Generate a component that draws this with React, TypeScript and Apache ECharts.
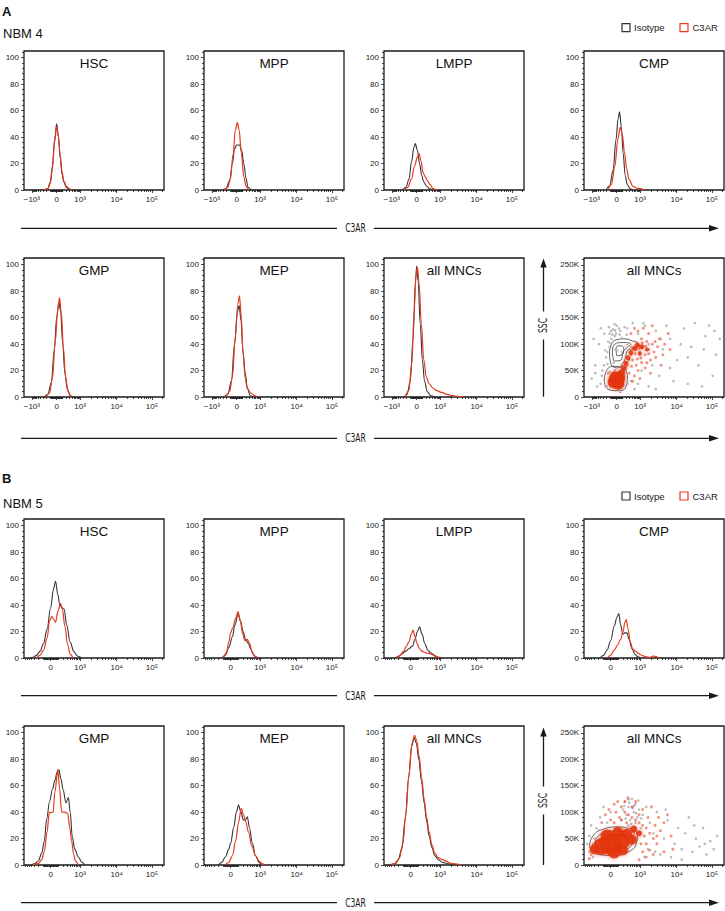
import React, { useEffect, useRef } from "react";
import * as echarts from "echarts";

// ---------------- labels ----------------
const sectionLetters = ["A", "B"];
const donorNames = ["NBM 4", "NBM 5"];
const populationsRow1 = ["HSC", "MPP", "LMPP", "CMP"];
const populationsRow2 = ["GMP", "MEP", "all MNCs"];
const scatterTitle = "all MNCs";
const legendNames = ["Isotype", "C3AR"];
const xAxisTitle = "C3AR";
const scatterYTitle = "SSC";

// ---------------- tick labels (display units of the biexponential scale) ----------------
const xTickPosA = [-0.7, 0, 0.66, 1.69, 2.68];
const xTickLabA = ["−10³", "0", "10³", "10⁴", "10⁵"];
const xRangeA = [-0.92, 3.02];
const xTickPosB = [0, 0.83, 1.86, 2.85];
const xTickLabB = ["0", "10³", "10⁴", "10⁵"];
const xRangeB = [-0.75, 3.19];
const histYTicks = [0, 20, 40, 60, 80, 100];
const histYMax = 105;
const sscTicks = [0, 50, 100, 150, 200, 250];
const sscTickLab = ["0", "50K", "100K", "150K", "200K", "250K"];
const sscYMax = 263;

// ---------------- NBM 4 histograms [x, % of max] ----------------
const nbm4HscIso = [[-0.35,0],[-0.25,1],[-0.18,6],[-0.12,18],[-0.06,38],[0,50],[0.05,40],[0.1,24],[0.15,12],[0.2,6],[0.27,2],[0.35,0]];
const nbm4HscC3 = [[-0.35,0],[-0.25,1],[-0.18,5],[-0.12,16],[-0.06,36],[0,48],[0.05,40],[0.1,26],[0.15,14],[0.2,7],[0.27,3],[0.35,1],[0.42,0]];
const nbm4MppIso = [[-0.4,0],[-0.3,1],[-0.2,7],[-0.12,20],[-0.06,31],[0,34],[0.08,34],[0.14,30],[0.2,20],[0.26,9],[0.32,2],[0.4,0]];
const nbm4MppC3 = [[-0.35,0],[-0.25,2],[-0.18,8],[-0.1,27],[-0.04,45],[0.02,51],[0.07,45],[0.13,28],[0.2,10],[0.26,3],[0.32,0]];
const nbm4LmppIso = [[-0.4,0],[-0.3,2],[-0.22,8],[-0.14,22],[-0.08,32],[-0.04,35],[0.02,30],[0.08,20],[0.14,11],[0.2,6],[0.28,3],[0.36,1],[0.45,0]];
const nbm4LmppC3 = [[-0.35,0],[-0.25,2],[-0.15,8],[-0.06,18],[0.02,25],[0.07,27.5],[0.12,22],[0.18,13],[0.24,10],[0.3,7],[0.38,4],[0.46,1],[0.54,0]];
const nbm4CmpIso = [[-0.3,0],[-0.2,3],[-0.1,15],[-0.02,38],[0.04,54],[0.08,59],[0.13,48],[0.18,28],[0.24,11],[0.3,4],[0.38,1],[0.45,0]];
const nbm4CmpC3 = [[-0.25,0],[-0.15,4],[-0.05,18],[0.03,38],[0.1,47.5],[0.16,42],[0.22,28],[0.28,16],[0.35,8],[0.45,3],[0.55,1.5],[0.65,1],[0.78,0]];
const nbm4GmpIso = [[-0.35,0],[-0.25,2],[-0.15,11],[-0.07,35],[0,60],[0.06,71.5],[0.11,65],[0.17,40],[0.23,18],[0.3,6],[0.38,1],[0.45,0]];
const nbm4GmpC3 = [[-0.3,0],[-0.2,3],[-0.12,14],[-0.04,42],[0.03,66],[0.08,75],[0.13,64],[0.19,37],[0.25,15],[0.32,4],[0.4,0]];
const nbm4MepIso = [[-0.35,0],[-0.25,2],[-0.15,12],[-0.06,40],[0.02,64],[0.07,69],[0.12,58],[0.18,34],[0.24,18],[0.3,7],[0.38,1],[0.45,0]];
const nbm4MepC3 = [[-0.3,0],[-0.2,4],[-0.12,15],[-0.04,45],[0.03,70],[0.08,76.5],[0.13,60],[0.18,32],[0.24,14],[0.3,6],[0.4,3],[0.5,1],[0.58,0]];
const nbm4MncIso = [[-0.35,0],[-0.27,2],[-0.18,12],[-0.1,45],[-0.04,85],[0,99],[0.04,88],[0.1,55],[0.16,28],[0.22,12],[0.3,4],[0.4,1],[0.5,0]];
const nbm4MncC3 = [[-0.32,0],[-0.22,5],[-0.14,25],[-0.07,65],[-0.02,92],[0.02,98],[0.07,85],[0.13,55],[0.2,28],[0.27,15],[0.35,10],[0.45,7],[0.55,5],[0.7,3.5],[0.85,2],[1.0,1],[1.15,0.5],[1.3,0]];

// ---------------- NBM 5 histograms ----------------
const nbm5HscIso = [[-0.6,0],[-0.5,0.5],[-0.4,2],[-0.3,5],[-0.2,11],[-0.1,22],[0,38],[0.08,52],[0.14,58],[0.2,48],[0.26,40],[0.32,38],[0.38,37],[0.45,25],[0.55,12],[0.65,5],[0.75,1.5],[0.87,0]];
const nbm5HscC3 = [[-0.4,0],[-0.3,2],[-0.2,6],[-0.1,15],[-0.03,28],[0.03,31.5],[0.09,29],[0.14,27],[0.2,35],[0.28,41],[0.33,37],[0.4,24],[0.48,10],[0.55,3],[0.63,0]];
const nbm5MppIso = [[-0.25,0],[-0.15,2],[-0.05,8],[0.05,16],[0.12,25],[0.21,33],[0.28,28],[0.35,20],[0.42,14],[0.5,11],[0.56,7],[0.63,3],[0.7,1],[0.78,0]];
const nbm5MppC3 = [[-0.2,0],[-0.12,4],[-0.05,12],[0,19],[0.06,23],[0.14,30],[0.21,35],[0.27,28],[0.34,18],[0.4,13],[0.47,14],[0.53,11],[0.6,5],[0.67,1.5],[0.75,0]];
const nbm5LmppIso = [[-0.45,0],[-0.35,1],[-0.25,3],[-0.15,5],[-0.05,7],[0.05,9],[0.12,14],[0.19,20],[0.25,23.5],[0.32,18],[0.4,11],[0.48,6],[0.56,4],[0.62,3],[0.7,1.5],[0.8,0.5],[0.88,0]];
const nbm5LmppC3 = [[-0.4,0],[-0.3,2],[-0.2,5],[-0.12,9],[-0.05,12],[0.02,18],[0.07,21],[0.12,16],[0.18,11],[0.25,7],[0.33,5],[0.42,4],[0.5,3.5],[0.58,3],[0.65,2],[0.72,1],[0.8,0]];
const nbm5CmpIso = [[-0.3,0],[-0.2,2],[-0.1,6],[0,13],[0.1,24],[0.18,31],[0.23,33.5],[0.28,25],[0.34,18],[0.4,19],[0.46,19],[0.52,14],[0.6,7],[0.68,3],[0.76,1],[0.85,0]];
const nbm5CmpC3 = [[-0.1,0],[0,2],[0.1,6],[0.2,10],[0.28,14],[0.35,20],[0.4,27],[0.44,29],[0.49,22],[0.55,12],[0.62,7],[0.7,5],[0.78,3.5],[0.88,2],[0.98,1],[1.1,0.5],[1.2,1.5],[1.28,1],[1.35,0]];
const nbm5GmpIso = [[-0.55,0],[-0.45,1],[-0.35,3],[-0.25,9],[-0.18,18],[-0.11,35],[-0.03,48],[0.05,57],[0.12,64],[0.18,70],[0.23,72],[0.29,65],[0.35,57],[0.43,47],[0.5,51],[0.55,40],[0.61,21],[0.68,12],[0.78,6],[0.88,2],[0.97,0]];
const nbm5GmpC3 = [[-0.5,0],[-0.35,1],[-0.25,4],[-0.18,10],[-0.1,25],[-0.04,39.5],[0.07,40],[0.12,55],[0.2,72],[0.25,58],[0.31,40],[0.4,40],[0.48,39],[0.54,28],[0.59,18],[0.65,8],[0.7,3],[0.78,0]];
const nbm5MepIso = [[-0.35,0],[-0.25,2],[-0.15,6],[-0.05,12],[0,16.5],[0.09,29],[0.16,40],[0.22,45.3],[0.29,40],[0.36,34],[0.42,34],[0.47,36.5],[0.53,28],[0.61,16.5],[0.7,7],[0.8,2],[0.86,0]];
const nbm5MepC3 = [[-0.15,0],[-0.05,2],[0.05,7],[0.14,18],[0.22,32],[0.3,42.8],[0.36,38],[0.42,33],[0.5,25],[0.6,14],[0.7,7],[0.8,3],[0.88,1],[0.95,0]];
const nbm5MncIso = [[-0.6,0],[-0.45,1],[-0.35,4],[-0.25,12],[-0.15,35],[-0.06,65],[0.03,90],[0.1,96],[0.16,92],[0.23,80],[0.3,64],[0.38,47],[0.45,33],[0.52,22],[0.6,13],[0.68,7],[0.78,4],[0.9,2],[1.05,1],[1.2,0.5],[1.35,0]];
const nbm5MncC3 = [[-0.55,0],[-0.42,1],[-0.32,5],[-0.22,16],[-0.13,40],[-0.05,68],[0.04,92],[0.11,98],[0.17,94],[0.24,82],[0.31,66],[0.38,50],[0.45,36],[0.52,25],[0.6,15],[0.68,9],[0.78,5.5],[0.9,4],[1.0,3],[1.1,1.5],[1.25,0.8],[1.4,0]];

// ---------------- NBM 4 C3AR vs SSC (x, SSC in K) ----------------
const nbm4DotsIso = [[-0.2,120],[-0.1,128],[0,135],[0.1,125],[-0.15,110],[-0.05,115],[0.05,108],[0.15,112],[-0.2,95],[-0.1,100],[0,98],[-0.25,85],[-0.12,80],[0.02,88],[-0.18,70],[-0.08,65],[-0.22,55],[-0.05,52],[-0.3,45],[-0.15,40],[-0.35,30],[-0.28,20],[-0.1,15],[0.1,18],[0.2,22],[-0.16,125],[-0.06,138],[0.06,130],[-0.24,105],[-0.02,120],[-0.14,92],[-0.3,75],[-0.26,62],[-0.12,58],[0.22,132],[0.28,118],[-0.4,50],[-0.45,25],[-0.6,60],[-0.5,100],[-0.45,130],[-0.7,35],[-0.55,20],[0.3,130],[0.45,140],[0.6,120],[0.8,135],[0.9,100],[1.1,125],[1.3,90],[1.5,110],[1.7,70],[1.9,130],[2.1,95],[2.3,60],[2.5,115],[2.7,40],[2.8,80],[1.2,40],[1.6,30],[2.0,25],[2.4,20],[0.9,20],[0.5,15],[1.4,135],[2.2,140],[2.6,135],[1.0,60],[1.8,100],[2.9,110],[0.7,50],[0.35,70],[-0.22,132],[-0.12,118],[-0.04,126],[0.08,118],[-0.18,102],[-0.08,90],[-0.32,88],[-0.36,60],[-0.2,48],[-0.42,40],[-0.6,45],[-0.65,110],[-0.35,120],[0.4,30],[0.6,25],[1.1,15],[1.5,55],[2.0,75],[2.45,90],[2.75,125],[1.25,110],[0.75,140]];
const nbm4DotsC3 = [[0.3,100],[0.4,95],[0.5,105],[0.55,90],[0.6,100],[0.65,85],[0.7,110],[0.75,95],[0.8,80],[0.85,105],[0.9,90],[0.95,70],[1.0,100],[1.05,85],[1.1,75],[1.15,95],[1.2,110],[0.4,120],[0.5,130],[0.6,125],[0.75,130],[0.9,120],[1.0,135],[0.45,70],[0.55,60],[0.6,50],[0.7,65],[0.8,55],[0.35,45],[0.5,40],[0.4,80],[0.3,60],[0.25,75],[0.15,85],[0.2,95],[0.85,65],[1.3,80],[1.35,100],[1.25,60],[0.95,45],[0.65,35],[0.45,30],[0.3,25],[-0.3,20],[-0.35,35],[-0.25,45],[-0.2,15],[0.1,10],[1.5,90],[1.45,120],[0.62,92],[0.72,102],[0.82,96],[0.52,82],[0.68,74],[0.9,82],[1.08,105],[0.42,58],[0.58,72]];
const nbm4CoreC3 = [[0,32,16],[-0.1,28,11],[0.08,38,11],[0.05,24,11],[-0.06,40,9],[0.14,46,7],[0.2,55,6],[0.26,64,5],[0.32,74,5],[0.4,84,5],[0.5,92,5],[0.58,98,5],[0.7,95,5],[0.85,90,4],[0.65,82,4]];
const nbm4Contours = [
  [[-0.15,60],[-0.2,80],[-0.15,100],[-0.02,108],[0.2,110],[0.45,106],[0.62,100],[0.5,92],[0.3,88],[0.25,75],[0.15,62],[0,55],[-0.15,60]],
  [[-0.08,68],[-0.12,85],[-0.05,100],[0.15,103],[0.4,100],[0.3,94],[0.18,85],[0.12,70],[-0.08,68]],
  [[0,78],[-0.02,92],[0.1,97],[0.2,92],[0.15,80],[0,78]],
  [[-0.35,30],[-0.3,48],[-0.1,58],[0.15,55],[0.3,40],[0.25,18],[0,12],[-0.25,15],[-0.35,30]],
];

// ---------------- NBM 5 C3AR vs SSC ----------------
const nbm5DotsIso = [[0.4,120],[0.5,110],[0.6,125],[0.7,115],[0.8,105],[0.45,95],[0.55,85],[0.65,100],[0.75,90],[0.5,75],[0.6,65],[0.7,80],[0.85,70],[0.9,95],[0.35,105],[0.3,85],[1.0,110],[1.1,80],[1.2,60],[1.3,100],[1.5,50],[1.6,85],[1.8,40],[1.9,70],[2.0,30],[2.1,60],[2.2,90],[2.3,25],[2.4,50],[2.5,35],[2.6,70],[2.7,20],[2.8,45],[2.9,30],[3.0,55],[1.4,20],[1.7,15],[2.0,10],[-0.6,25],[-0.5,40],[-0.6,55],[-0.4,70],[-0.3,90],[-0.5,15],[-0.2,110],[0,100],[-0.1,80],[1.05,30],[1.25,25],[0.95,15],[0.52,118],[0.62,108],[0.72,98],[0.42,88],[0.58,78],[0.48,128],[0.78,122],[0.66,112],[0.38,112],[0.86,88],[2.65,40],[2.35,75],[1.55,105],[-0.65,40],[-0.55,75]];
const nbm5DotsC3 = [[-0.55,20],[-0.5,35],[-0.45,50],[-0.35,65],[-0.25,80],[-0.15,95],[-0.05,105],[0.1,115],[0.2,120],[0.3,110],[0.4,100],[0.5,95],[0.6,90],[0.7,85],[0.8,80],[0.9,75],[1.0,70],[1.1,60],[1.2,50],[1.3,40],[1.4,65],[1.5,80],[1.6,95],[1.7,55],[1.75,30],[1.5,25],[1.2,20],[1.0,15],[0.8,10],[0.55,70],[0.65,60],[0.75,50],[0.85,40],[0.95,55],[1.05,90],[0.9,105],[0.6,110],[0.45,80],[0.35,70],[0.25,90],[0.15,100],[0,85],[-0.1,70],[-0.3,45],[-0.4,30],[1.15,110],[1.35,90],[0.7,120],[0.5,125],[1.25,75],[0.1,80],[0.3,85],[-0.2,62],[0.8,95],[1.0,40],[1.1,28],[0.9,25],[-0.6,12],[0.4,120],[1.3,55]];
const nbm5CoreC3 = [[0,40,22],[-0.25,35,17],[0.3,45,17],[0.1,25,13],[-0.1,55,13],[0.45,58,11],[0.6,48,10],[-0.45,30,10],[0.2,63,10],[0.65,68,7],[0.8,60,6],[0.35,28,10]];
const nbm5Contours = [
  [[-0.6,35],[-0.5,55],[-0.2,68],[0.2,72],[0.55,68],[0.75,58],[0.72,40],[0.5,25],[0.1,18],[-0.35,20],[-0.6,35]],
  [[-0.45,38],[-0.35,55],[0,64],[0.4,63],[0.62,52],[0.55,35],[0.25,25],[-0.2,25],[-0.45,38]],
  [[-0.3,40],[-0.2,52],[0.1,58],[0.45,55],[0.5,42],[0.3,32],[-0.05,30],[-0.3,40]],
];

// ---------------- layout / style ----------------
const COL_LEFT = [24, 204, 384, 584];
const ROW_TOP = [51, 258, 519, 726];
const PW = 140;
const PH = 139;
const ISO_COLOR = "#353535";
const C3_COLOR = "#e8391b";
const INK = "#1a1a1a";
const FONT = "'Liberation Sans', Arial, Helvetica, sans-serif";
const COND = "'DejaVu Sans Condensed', 'Liberation Sans Narrow', 'DejaVu Sans', sans-serif";

function logMinor(dec: number[], min: number, max: number) {
  const out: number[] = [];
  for (let d = 0; d < dec.length; d++) {
    const step = d + 1 < dec.length ? dec[d + 1] - dec[d] : dec[d] - dec[d - 1];
    for (let k = 2; k <= 9; k++) {
      const p = dec[d] + Math.log10(k) * step;
      if (p > min && p < max) out.push(p);
    }
  }
  return out;
}
function linMinor(posW: number, negW: number, min: number, max: number) {
  const c = 150;
  const den = Math.asinh(1000 / c);
  const out: number[] = [];
  const vals: number[] = [];
  for (let v = 10; v < 100; v += 10) vals.push(v);
  for (let v = 100; v < 1000; v += 100) vals.push(v);
  for (const v of vals) {
    const f = Math.asinh(v / c) / den;
    const a = posW * f;
    const b = -negW * f;
    if (a < max) out.push(a);
    if (b > min) out.push(b);
  }
  return out;
}

function buildOption() {
  const grid: any[] = [];
  const xAxis: any[] = [];
  const yAxis: any[] = [];
  const series: any[] = [];
  const graphic: any[] = [];

  type Panel = {
    row: number; col: number; sec: number; title: string;
    iso?: number[][]; c3?: number[][];
    dotsIso?: number[][]; dotsC3?: number[][]; core?: number[][]; loops?: number[][][];
  };
  const panels: Panel[] = [
    { row: 0, col: 0, sec: 0, title: populationsRow1[0], iso: nbm4HscIso, c3: nbm4HscC3 },
    { row: 0, col: 1, sec: 0, title: populationsRow1[1], iso: nbm4MppIso, c3: nbm4MppC3 },
    { row: 0, col: 2, sec: 0, title: populationsRow1[2], iso: nbm4LmppIso, c3: nbm4LmppC3 },
    { row: 0, col: 3, sec: 0, title: populationsRow1[3], iso: nbm4CmpIso, c3: nbm4CmpC3 },
    { row: 1, col: 0, sec: 0, title: populationsRow2[0], iso: nbm4GmpIso, c3: nbm4GmpC3 },
    { row: 1, col: 1, sec: 0, title: populationsRow2[1], iso: nbm4MepIso, c3: nbm4MepC3 },
    { row: 1, col: 2, sec: 0, title: populationsRow2[2], iso: nbm4MncIso, c3: nbm4MncC3 },
    { row: 1, col: 3, sec: 0, title: scatterTitle, dotsIso: nbm4DotsIso, dotsC3: nbm4DotsC3, core: nbm4CoreC3, loops: nbm4Contours },
    { row: 2, col: 0, sec: 1, title: populationsRow1[0], iso: nbm5HscIso, c3: nbm5HscC3 },
    { row: 2, col: 1, sec: 1, title: populationsRow1[1], iso: nbm5MppIso, c3: nbm5MppC3 },
    { row: 2, col: 2, sec: 1, title: populationsRow1[2], iso: nbm5LmppIso, c3: nbm5LmppC3 },
    { row: 2, col: 3, sec: 1, title: populationsRow1[3], iso: nbm5CmpIso, c3: nbm5CmpC3 },
    { row: 3, col: 0, sec: 1, title: populationsRow2[0], iso: nbm5GmpIso, c3: nbm5GmpC3 },
    { row: 3, col: 1, sec: 1, title: populationsRow2[1], iso: nbm5MepIso, c3: nbm5MepC3 },
    { row: 3, col: 2, sec: 1, title: populationsRow2[2], iso: nbm5MncIso, c3: nbm5MncC3 },
    { row: 3, col: 3, sec: 1, title: scatterTitle, dotsIso: nbm5DotsIso, dotsC3: nbm5DotsC3, core: nbm5CoreC3, loops: nbm5Contours },
  ];

  const tickLine = { color: INK, width: 0.8 };
  const labelStyle = { fontSize: 8, color: "#222", fontFamily: FONT };
  const noLine = { show: false, onZero: false };

  panels.forEach((p, i) => {
    const isSsc = !!p.dotsIso;
    const left = COL_LEFT[p.col];
    const top = ROW_TOP[p.row];
    grid.push({ left, top, width: PW, height: PH, show: true, borderColor: INK, borderWidth: 1.3, backgroundColor: "transparent" });

    const xr = p.sec === 0 ? xRangeA : xRangeB;
    const xPos = p.sec === 0 ? xTickPosA : xTickPosB;
    const xLab = p.sec === 0 ? xTickLabA : xTickLabB;
    const dec = p.sec === 0 ? xTickPosA.slice(2) : xTickPosB.slice(1);
    const negW = p.sec === 0 ? -xTickPosA[0] : xTickPosB[1];
    const xMinor = logMinor(dec, xr[0], xr[1]).concat(linMinor(dec[0], negW, xr[0], xr[1]));

    xAxis.push({
      type: "value", gridIndex: i, min: xr[0], max: xr[1], position: "bottom",
      axisLine: noLine, splitLine: { show: false },
      axisTick: { show: true, length: 3, lineStyle: tickLine, customValues: xPos },
      axisLabel: {
        show: true, customValues: xPos, margin: 5, ...labelStyle,
        formatter: (v: number) => { const k = xPos.findIndex((q) => Math.abs(q - v) < 1e-6); return k >= 0 ? xLab[k] : ""; },
      },
    });
    xAxis.push({
      type: "value", gridIndex: i, min: xr[0], max: xr[1], position: "bottom",
      axisLine: noLine, splitLine: { show: false }, axisLabel: { show: false },
      axisTick: { show: true, length: 2, lineStyle: tickLine, customValues: xMinor },
    });

    const yMax = isSsc ? sscYMax : histYMax;
    const yPos = isSsc ? sscTicks : histYTicks;
    const yLab = isSsc ? sscTickLab : histYTicks.map(String);
    const yMinor: number[] = [];
    const mstep = isSsc ? 10 : 4;
    const major = isSsc ? 50 : 20;
    for (let v = mstep; v < yMax; v += mstep) if (v % major !== 0) yMinor.push(v);

    yAxis.push({
      type: "value", gridIndex: i, min: 0, max: yMax, position: "left",
      axisLine: noLine, splitLine: { show: false },
      axisTick: { show: true, length: 3, lineStyle: tickLine, customValues: yPos },
      axisLabel: {
        show: true, customValues: yPos, margin: 5, ...labelStyle,
        formatter: (v: number) => { const k = yPos.findIndex((q) => Math.abs(q - v) < 1e-6); return k >= 0 ? yLab[k] : ""; },
      },
    });
    yAxis.push({
      type: "value", gridIndex: i, min: 0, max: yMax, position: "left",
      axisLine: noLine, splitLine: { show: false }, axisLabel: { show: false },
      axisTick: { show: true, length: 2, lineStyle: tickLine, customValues: yMinor },
    });

    const xi = 2 * i;
    const yi = 2 * i;
    if (!isSsc) {
      series.push({
        type: "line", name: legendNames[0], xAxisIndex: xi, yAxisIndex: yi, data: p.iso,
        smooth: 0.35, smoothMonotone: "x", showSymbol: false, symbol: "none", silent: true,
        lineStyle: { color: ISO_COLOR, width: 1.1 }, z: 3,
      });
      series.push({
        type: "line", name: legendNames[1], xAxisIndex: xi, yAxisIndex: yi, data: p.c3,
        smooth: 0.35, smoothMonotone: "x", showSymbol: false, symbol: "none", silent: true,
        lineStyle: { color: C3_COLOR, width: 1.2 }, z: 4,
      });
    } else {
      series.push({
        type: "scatter", name: legendNames[0], xAxisIndex: xi, yAxisIndex: yi, data: p.dotsIso,
        symbolSize: 2.6, silent: true, itemStyle: { color: "#3a3a3a", opacity: 0.35 }, z: 2,
      });
      series.push({
        type: "scatter", name: legendNames[1], xAxisIndex: xi, yAxisIndex: yi, data: p.dotsC3,
        symbolSize: 3, silent: true, itemStyle: { color: C3_COLOR, opacity: 0.55 }, z: 3,
      });
      (p.loops || []).forEach((loop) => {
        series.push({
          type: "line", xAxisIndex: xi, yAxisIndex: yi, data: loop, smooth: 0.5, showSymbol: false, symbol: "none",
          silent: true, lineStyle: { color: "#ffffff", width: 2.6 }, z: 4,
        });
        series.push({
          type: "line", xAxisIndex: xi, yAxisIndex: yi, data: loop, smooth: 0.5, showSymbol: false, symbol: "none",
          silent: true, lineStyle: { color: "#222", width: 0.7 }, z: 5,
        });
      });
      series.push({
        type: "scatter", xAxisIndex: xi, yAxisIndex: yi, data: p.core,
        symbolSize: (d: number[]) => d[2], silent: true,
        itemStyle: { color: "#e4360f", opacity: 0.88, shadowBlur: 4, shadowColor: "rgba(228,54,15,0.6)" }, z: 6,
      });
    }

    graphic.push({
      type: "text", x: left + PW / 2, y: top + 12, silent: true,
      style: { text: p.title, fontSize: 13.5, fontFamily: FONT, fill: "#111", align: "center", verticalAlign: "middle", textAlign: "center", textVerticalAlign: "middle" },
    });
  });

  // section headers and legends
  const letterY = [11, 478];
  const donorY = [33.5, 503];
  const legendY = [27.7, 496];
  for (let s = 0; s < 2; s++) {
    graphic.push({
      type: "text", x: 2, y: letterY[s], silent: true,
      style: { text: sectionLetters[s], fontSize: 13, fontWeight: "bold", fontFamily: FONT, fill: "#111", verticalAlign: "middle", textVerticalAlign: "middle" },
    });
    graphic.push({
      type: "text", x: 3, y: donorY[s], silent: true,
      style: { text: donorNames[s], fontSize: 13, fontFamily: FONT, fill: "#111", verticalAlign: "middle", textVerticalAlign: "middle" },
    });
    const ly = legendY[s];
    graphic.push({ type: "rect", silent: true, shape: { x: 622, y: ly - 4, width: 8, height: 8 }, style: { fill: "none", stroke: ISO_COLOR, lineWidth: 1.2 } });
    graphic.push({ type: "text", x: 634, y: ly, silent: true, style: { text: legendNames[0], fontSize: 9.5, fontFamily: FONT, fill: "#222", verticalAlign: "middle", textVerticalAlign: "middle" } });
    graphic.push({ type: "rect", silent: true, shape: { x: 680, y: ly - 4, width: 8, height: 8 }, style: { fill: "none", stroke: C3_COLOR, lineWidth: 1.2 } });
    graphic.push({ type: "text", x: 692.5, y: ly, silent: true, style: { text: legendNames[1], fontSize: 9.5, fontFamily: FONT, fill: "#222", verticalAlign: "middle", textVerticalAlign: "middle" } });
  }

  // C3AR axis arrows
  const arrowY = [228.3, 438.3, 695.7, 902.7];
  const arrowStroke = { stroke: INK, lineWidth: 1.3 };
  arrowY.forEach((y) => {
    graphic.push({ type: "line", silent: true, shape: { x1: 21, y1: y, x2: 337, y2: y }, style: arrowStroke });
    graphic.push({ type: "line", silent: true, shape: { x1: 374, y1: y, x2: 712, y2: y }, style: arrowStroke });
    graphic.push({ type: "polygon", silent: true, shape: { points: [[709, y - 3.2], [719, y], [709, y + 3.2]] }, style: { fill: INK } });
    graphic.push({
      type: "text", x: 355.5, y, scaleX: 0.68, silent: true,
      style: { text: xAxisTitle, fontSize: 12.5, fontFamily: COND, fill: INK, align: "center", verticalAlign: "middle", textAlign: "center", textVerticalAlign: "middle" },
    });
  });

  // SSC arrows
  const sscX = 543.5;
  const sscSpecs = [
    { bottom: 396.7, tip: 258.5, mid: 325.5 },
    { bottom: 865, tip: 727.5, mid: 800.5 },
  ];
  sscSpecs.forEach((s) => {
    graphic.push({ type: "line", silent: true, shape: { x1: sscX, y1: s.bottom, x2: sscX, y2: s.mid + 14 }, style: arrowStroke });
    graphic.push({ type: "line", silent: true, shape: { x1: sscX, y1: s.mid - 14, x2: sscX, y2: s.tip + 8 }, style: arrowStroke });
    graphic.push({ type: "polygon", silent: true, shape: { points: [[sscX - 3.2, s.tip + 9], [sscX, s.tip], [sscX + 3.2, s.tip + 9]] }, style: { fill: INK } });
    graphic.push({
      type: "text", x: sscX - 1, y: s.mid, rotation: Math.PI / 2, scaleX: 0.68, silent: true,
      style: { text: scatterYTitle, fontSize: 12.5, fontFamily: COND, fill: INK, align: "center", verticalAlign: "middle", textAlign: "center", textVerticalAlign: "middle" },
    });
  });

  return {
    animation: false,
    backgroundColor: "#ffffff",
    textStyle: { fontFamily: FONT },
    grid, xAxis, yAxis, series, graphic,
  };
}

export default function App() {
  const ref = useRef<HTMLDivElement>(null);
  useEffect(() => {
    if (!ref.current) return;
    const chart = echarts.init(ref.current, undefined, { renderer: "svg" });
    chart.setOption(buildOption() as any);
    return () => chart.dispose();
  }, []);
  return <div ref={ref} style={{ position: "absolute", left: 0, top: 0, width: 725, height: 911 }} />;
}
